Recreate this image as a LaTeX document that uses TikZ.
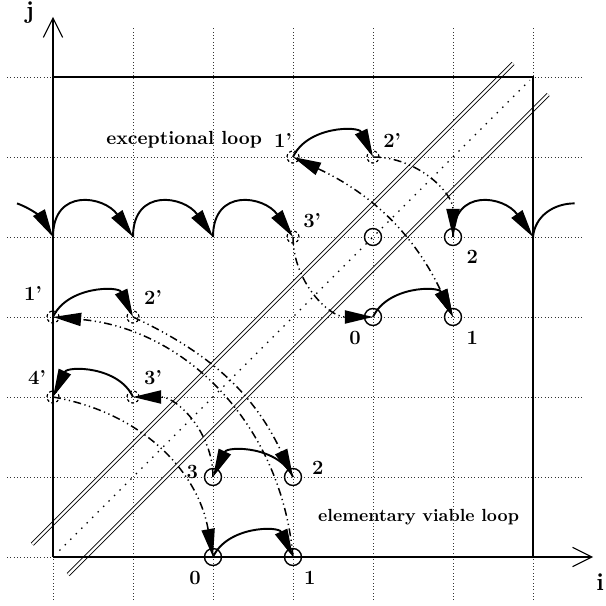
\documentclass[tikz,border=0pt]{standalone}
\usetikzlibrary{arrows.meta}
\tikzset{
  grd/.style    = {draw=black!80, line width=0.5pt, dash pattern=on 0.5pt off 1.4pt},
  axis/.style   = {line width=0.6pt, -{Straight Barb[length=11pt,width=11pt]}},
  mirror/.style = {double, line width=0.5pt, double distance=1.3pt},
  diag/.style   = {line width=0.8pt, dash pattern=on 0.8pt off 3.6pt},
  pt/.style     = {circle, draw, line width=0.8pt, minimum size=3.4mm, inner sep=0pt},
  ghost/.style  = {circle, draw, line width=0.7pt, dash pattern=on 1.6pt off 1.4pt,
                   minimum size=2.4mm, inner sep=0pt},
  arc/.style    = {line width=1.1pt, -{Triangle[length=16pt,width=7.5pt]}},
  refl/.style   = {line width=0.85pt, -{Triangle[length=16pt,width=7.5pt]},
                   dash pattern=on 4.5pt off 2pt on 0.7pt off 2pt on 0.7pt off 2pt},
  lbl/.style    = {font=\fontsize{11.5}{13}\selectfont\bfseries, inner sep=0pt},
  ttl/.style    = {font=\bfseries, inner sep=0pt},
  axlbl/.style  = {font=\fontsize{14}{16}\selectfont\bfseries, inner sep=0pt},
}

\begin{document}
\begin{tikzpicture}[x=1.6cm, y=1.6cm]
  \useasboundingbox (-0.6625,-0.6125) rectangle (6.9125,6.9625);

  % lattice, mirror lines, domain
  \draw[grd, step=1.6cm] (-0.575,-0.54) grid (6.61,6.625);
  \draw[mirror] (-0.26,0.16) -- (5.75,6.17);
  \draw[mirror] (0.19,-0.22) -- (6.19,5.78);
  \draw[diag] (0.08,0.08) -- (5.96,5.96);
  \draw[line width=0.6pt] (0,6) -| (6,0);

  \coordinate (o)    at (0,0);
  \coordinate (jtip) at (0,6.75);
  \coordinate (itip) at (6.75,0);
  \draw[axis] (o) -- (jtip);
  \draw[axis] (o) -- (itip);
  \node[axlbl] (jl) at (-0.29,6.8)  {j};
  \node[axlbl] (il) at (6.84,-0.31) {i};

  % elementary viable loop and its image
  \node[pt] (e0) at (2,0) {};
  \node[pt] (e1) at (3,0) {};
  \node[pt] (e2) at (3,1) {};
  \node[pt] (e3) at (2,1) {};
  \node[ghost] (a1) at (0,3) {};
  \node[ghost] (a2) at (1,3) {};
  \node[ghost] (a3) at (1,2) {};
  \node[ghost] (a4) at (0,2) {};

  % exceptional loop
  \node[pt] (u0) at (4,3) {};
  \node[pt] (u1) at (5,3) {};
  \node[pt] (u2) at (5,4) {};
  \node[pt] (uc) at (4,4) {};
  \node[ghost] (v1) at (3,5) {};
  \node[ghost] (v2) at (4,5) {};
  \node[ghost] (v3) at (3,4) {};
  \coordinate (r0)   at (0,4);
  \coordinate (r1)   at (1,4);
  \coordinate (r2)   at (2,4);
  \coordinate (r6)   at (6,4);
  \coordinate (rin)  at (-0.45,4.42);
  \coordinate (rout) at (6.52,4.42);

  % labels
  \node[lbl] (le0) at (1.775,-0.26) {0};
  \node[lbl] (le1) at (3.21,-0.26)  {1};
  \node[lbl] (le2) at (3.31,1.11)   {2};
  \node[lbl] (le3) at (1.74,1.06)   {3};
  \node[lbl] (la1) at (-0.25,3.3)   {1'};
  \node[lbl] (la2) at (1.25,3.25)   {2'};
  \node[lbl] (la3) at (1.25,2.24)   {3'};
  \node[lbl] (la4) at (-0.2,2.25)   {4'};
  \node[lbl] (lu0) at (3.775,2.74)  {0};
  \node[lbl] (lu1) at (5.24,2.74)   {1};
  \node[lbl] (lu2) at (5.24,3.75)   {2};
  \node[lbl] (lv1) at (2.875,5.21)  {1'};
  \node[lbl] (lv2) at (4.24,5.21)   {2'};
  \node[lbl] (lv3) at (3.24,4.21)   {3'};
  \node[ttl, font=\fontsize{10.8}{13}\selectfont\bfseries] (tx) at (1.64,5.21) {exceptional loop};
  \node[ttl] (te) at (4.57,0.5) {elementary viable loop};

  % steps of the loops
  \draw[arc] (e0.center) to[out=65,in=115,looseness=1.1] (e1.center);
  \draw[arc] (e2.center) to[out=115,in=65,looseness=1.1] (e3.center);
  \draw[arc] (a1.center) to[out=65,in=115,looseness=1.1] (a2.center);
  \draw[arc] (a3.center) to[out=115,in=65,looseness=1.1] (a4.center);
  \draw[arc] (u0.center) to[out=65,in=115,looseness=1.1] (u1.center);
  \draw[arc] (v1.center) to[out=65,in=115,looseness=1.1] (v2.center);
  \draw[arc] (rin) to[out=-20,in=120] (r0);
  \foreach \s/\t in {r0/r1, r1/r2, r2/v3.center, u2.center/r6}
    \draw[arc] (\s) to[out=90,in=125,looseness=1.6] (\t);
  \draw[line width=1.1pt] (r6) to[out=85,in=180] (rout);

  % reflections
  \draw[refl] (a4.center) to[bend left=35]  (e0.center);
  \draw[refl] (e1.center) to[bend right=40] (a1.center);
  \draw[refl] (a2.center) to[bend left=20]  (e2.center);
  \draw[refl] (e3.center) to[bend right=45] (a3.center);
  \draw[refl] (v3.center) to[bend right=45] (u0.center);
  \draw[refl] (v2.center) to[bend left=45]  (u2.center);
  \draw[refl, {Triangle[length=16pt,width=7.5pt]}-{Triangle[length=16pt,width=7.5pt]}]
    (v1.center) to[bend left=20] (u1.center);
\end{tikzpicture}
\end{document}
